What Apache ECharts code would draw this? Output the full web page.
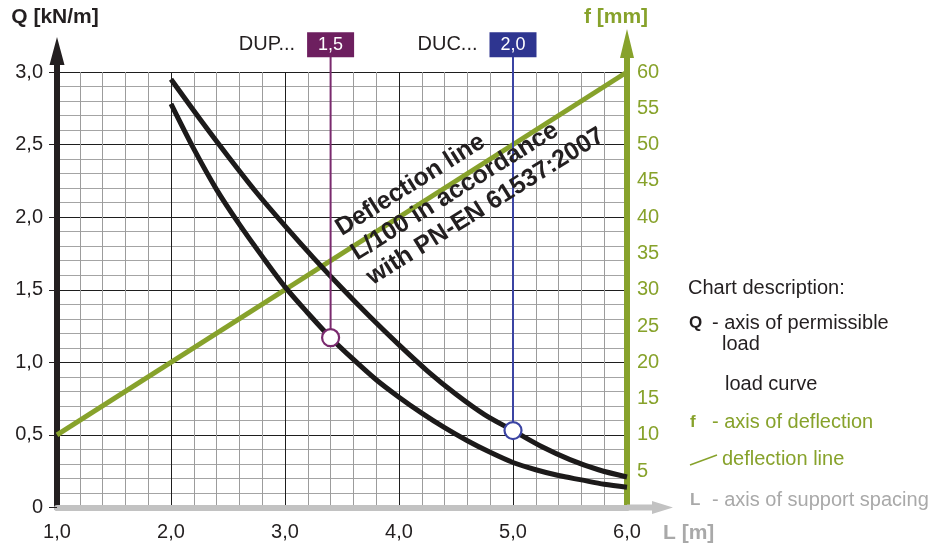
<!DOCTYPE html>
<html><head><meta charset="utf-8">
<script src="https://cdn.jsdelivr.net/npm/echarts@6/dist/echarts.min.js"></script>
<style>html,body{margin:0;padding:0;background:#fff}#c{width:929px;height:546px}</style>
</head><body><div id="c"></div>
<script>
// ---- tick labels ----
const xTickLabels = ['1,0', '2,0', '3,0', '4,0', '5,0', '6,0'];
const qTickLabels = ['0', '0,5', '1,0', '1,5', '2,0', '2,5', '3,0'];
const fTickLabels = ['', '5', '10', '15', '20', '25', '30', '35', '40', '45', '50', '55', '60'];

// ---- load curve DUC... 2,0 (upper) ----
const ducL = [2.0, 2.25, 2.5, 2.75, 3.0, 3.25, 3.5, 3.75, 4.0, 4.25, 4.5, 4.75, 5.0, 5.25, 5.5, 5.75, 6.0];
const ducQ = [2.95, 2.68, 2.42, 2.17, 1.94, 1.72, 1.51, 1.31, 1.12, 0.94, 0.78, 0.64, 0.53, 0.42, 0.33, 0.26, 0.21];

// ---- load curve DUP... 1,5 (lower) ----
const dupL = [2.0, 2.2, 2.4, 2.6, 2.8, 3.0, 3.2, 3.4, 3.6, 3.8, 4.0, 4.2, 4.4, 4.6, 4.8, 5.0, 5.2, 5.4, 5.6, 5.8, 6.0];
const dupQ = [2.78, 2.47, 2.19, 1.95, 1.73, 1.52, 1.34, 1.17, 1.02, 0.88, 0.76, 0.65, 0.55, 0.46, 0.38, 0.31, 0.26, 0.22, 0.19, 0.16, 0.14];

// ---- deflection line L/100 ----
const defL = [1.0, 6.0];
const defF = [10, 60];

// ---- marked points ----
const markerNames = ['DUP...', 'DUC...'];
const markerValues = ['1,5', '2,0'];
const markerL = [3.4, 5.0];
const markerQ = [1.17, 0.53];

const annotationLines = ['Deflection line', 'L/100 in accordance', 'with PN-EN 61537:2007'];

// ---- styling ----
const FONT = '"Liberation Sans", Arial, Helvetica, sans-serif';
const green = '#87a22b', gray = '#a9a9a9', dark = '#231f20';
const boxColors = ['#6d1f5f', '#2e3590'];
const lineColors = ['#7a2a6e', '#3b44a3'];
const boxQ = 3.187;       // label box centre (in Q units, above the plot)
const annotQ = [3.6, 1.74];

const zip = (a, b) => a.map((v, i) => [v, b[i]]);

const chart = echarts.init(document.getElementById('c'), null, { renderer: 'canvas' });
const option = {
  animation: false,
  textStyle: { fontFamily: FONT },
  grid: { left: 57, right: 302, top: 72, bottom: 38.5, containLabel: false },
  xAxis: {
    type: 'value', min: 1, max: 6, interval: 1,
    name: 'L [m]', nameLocation: 'end', nameGap: 36,
    nameTextStyle: { color: gray, fontWeight: 'bold', fontSize: 21, fontFamily: FONT, verticalAlign: 'top', padding: [15, 0, 0, 0] },
    axisLine: {
      show: true, onZero: false,
      lineStyle: { color: '#c2c2c2', width: 6 },
      symbol: ['none', 'path://M0,0 L6.5,21 L3,21 L3,46 L-3,46 L-3,21 L-6.5,21 Z'],
      symbolSize: [13, 46], symbolOffset: [0, 23]
    },
    axisTick: { show: false },
    axisLabel: {
      margin: 15, color: dark, fontSize: 20, fontFamily: FONT,
      formatter: v => xTickLabels[Math.round(v - 1)]
    },
    splitLine: { show: true, lineStyle: { color: '#1e1e1e', width: 1 } },
    minorTick: { show: false, splitNumber: 5 },
    minorSplitLine: { show: true, lineStyle: { color: '#9c9c9c', width: 1 } }
  },
  yAxis: [
    {
      type: 'value', min: 0, max: 3, interval: 0.5, position: 'left',
      name: 'Q [kN/m]', nameLocation: 'end', nameGap: 44,
      nameTextStyle: { color: dark, fontWeight: 'bold', fontSize: 21, fontFamily: FONT, align: 'center', padding: [0, 4, 0, 0] },
      axisLine: {
        show: true, onZero: false,
        lineStyle: { color: dark, width: 6 },
        symbol: ['none', 'path://M0,0 L7.5,28 L3,28 L3,35 L-3,35 L-3,28 L-7.5,28 Z'],
        symbolSize: [15, 35], symbolOffset: [0, 17.5]
      },
      axisTick: { show: true, length: 8, lineStyle: { color: dark, width: 1 } },
      axisLabel: {
        margin: 14, color: dark, fontSize: 20, fontFamily: FONT,
        formatter: v => qTickLabels[Math.round(v / 0.5)]
      },
      splitLine: { show: true, lineStyle: { color: '#1e1e1e', width: 1 } },
      minorTick: { show: false, splitNumber: 5 },
      minorSplitLine: { show: true, lineStyle: { color: '#a4a4a4', width: 1 } }
    },
    {
      type: 'value', min: 0, max: 60, interval: 5, position: 'right',
      name: 'f [mm]', nameLocation: 'end', nameGap: 44,
      nameTextStyle: { color: green, fontWeight: 'bold', fontSize: 21, fontFamily: FONT, align: 'center', padding: [0, 22, 0, 0] },
      axisLine: {
        show: true, onZero: false,
        lineStyle: { color: green, width: 6 },
        symbol: ['none', 'path://M0,0 L7,29 L3,29 L3,43 L-3,43 L-3,29 L-7,29 Z'],
        symbolSize: [14, 43], symbolOffset: [0, 21.5]
      },
      axisTick: { show: false },
      axisLabel: {
        margin: 10, color: green, fontSize: 20, fontFamily: FONT,
        formatter: v => fTickLabels[Math.round(v / 5)]
      },
      splitLine: { show: false }
    }
  ],
  series: [
    {
      type: 'line', yAxisIndex: 1, data: zip(defL, defF), symbol: 'none', silent: true, z: 2,
      lineStyle: { color: green, width: 5, cap: 'butt' }
    },
    {
      type: 'line', data: zip(ducL, ducQ), smooth: 0.3, symbol: 'none', silent: true, z: 3,
      lineStyle: { color: '#1c1a1a', width: 5, cap: 'butt' }
    },
    {
      type: 'line', data: zip(dupL, dupQ), smooth: 0.3, symbol: 'none', silent: true, z: 3,
      lineStyle: { color: '#1c1a1a', width: 5, cap: 'butt' }
    },
    ...markerL.map((l, i) => ({
      type: 'line', data: [[l, markerQ[i]], [l, boxQ]], clip: false, symbol: 'none', silent: true, z: 4,
      lineStyle: { color: lineColors[i], width: 2 }
    })),
    {
      type: 'scatter', clip: false, silent: true, z: 5, symbolSize: 17,
      data: markerL.map((l, i) => ({
        value: [l, markerQ[i]],
        itemStyle: { color: '#fff', borderColor: lineColors[i], borderWidth: 2.2, opacity: 1 }
      }))
    },
    {
      type: 'scatter', clip: false, silent: true, z: 5,
      data: markerL.map((l, i) => ({
        value: [l, boxQ], symbol: 'rect', symbolSize: [47, 25],
        itemStyle: { color: boxColors[i], opacity: 1 },
        label: { show: true, position: 'inside', formatter: markerValues[i], color: '#fff', fontSize: 18, fontFamily: FONT }
      }))
    },
    {
      type: 'scatter', clip: false, silent: true, z: 5,
      data: markerL.map((l, i) => ({
        value: [l, boxQ], symbolSize: 1, itemStyle: { color: 'rgba(255,255,255,0)', opacity: 1 },
        label: { show: true, position: 'left', distance: 35, formatter: markerNames[i], color: dark, fontSize: 20, fontFamily: FONT, padding: [6, 0, 0, 0] }
      }))
    },
    {
      type: 'scatter', clip: false, silent: true, z: 6,
      data: [{
        value: annotQ, symbolSize: 1, itemStyle: { color: 'rgba(255,255,255,0)', opacity: 1 },
        label: {
          show: true, position: 'inside', align: 'left', verticalAlign: 'middle', rotate: 32,
          formatter: annotationLines.join('\n'), fontSize: 25, fontWeight: 'bold', lineHeight: 29,
          color: dark, fontFamily: FONT
        }
      }]
    }
  ],
  graphic: [
    { type: 'text', x: 688, y: 288, style: { text: 'Chart description:', fill: dark, font: '20px ' + FONT, verticalAlign: 'middle' } },
    { type: 'text', x: 689, y: 323, style: { text: 'Q', fill: dark, font: 'bold 17px ' + FONT, verticalAlign: 'middle' } },
    { type: 'text', x: 712, y: 323, style: { text: '- axis of permissible', fill: dark, font: '20px ' + FONT, verticalAlign: 'middle' } },
    { type: 'text', x: 722, y: 344, style: { text: 'load', fill: dark, font: '20px ' + FONT, verticalAlign: 'middle' } },
    { type: 'text', x: 725, y: 384, style: { text: 'load curve', fill: dark, font: '20px ' + FONT, verticalAlign: 'middle' } },
    { type: 'text', x: 690, y: 422, style: { text: 'f', fill: green, font: 'bold 17px ' + FONT, verticalAlign: 'middle' } },
    { type: 'text', x: 712, y: 422, style: { text: '- axis of deflection', fill: green, font: '20px ' + FONT, verticalAlign: 'middle' } },
    { type: 'line', shape: { x1: 690, y1: 465, x2: 717, y2: 455 }, style: { stroke: green, lineWidth: 1.5 } },
    { type: 'text', x: 722, y: 459, style: { text: 'deflection line', fill: green, font: '20px ' + FONT, verticalAlign: 'middle' } },
    { type: 'text', x: 690, y: 500, style: { text: 'L', fill: gray, font: 'bold 17px ' + FONT, verticalAlign: 'middle' } },
    { type: 'text', x: 712, y: 500, style: { text: '- axis of support spacing', fill: gray, font: '20px ' + FONT, verticalAlign: 'middle' } }
  ]
};
chart.setOption(option);
</script>
</body></html>
